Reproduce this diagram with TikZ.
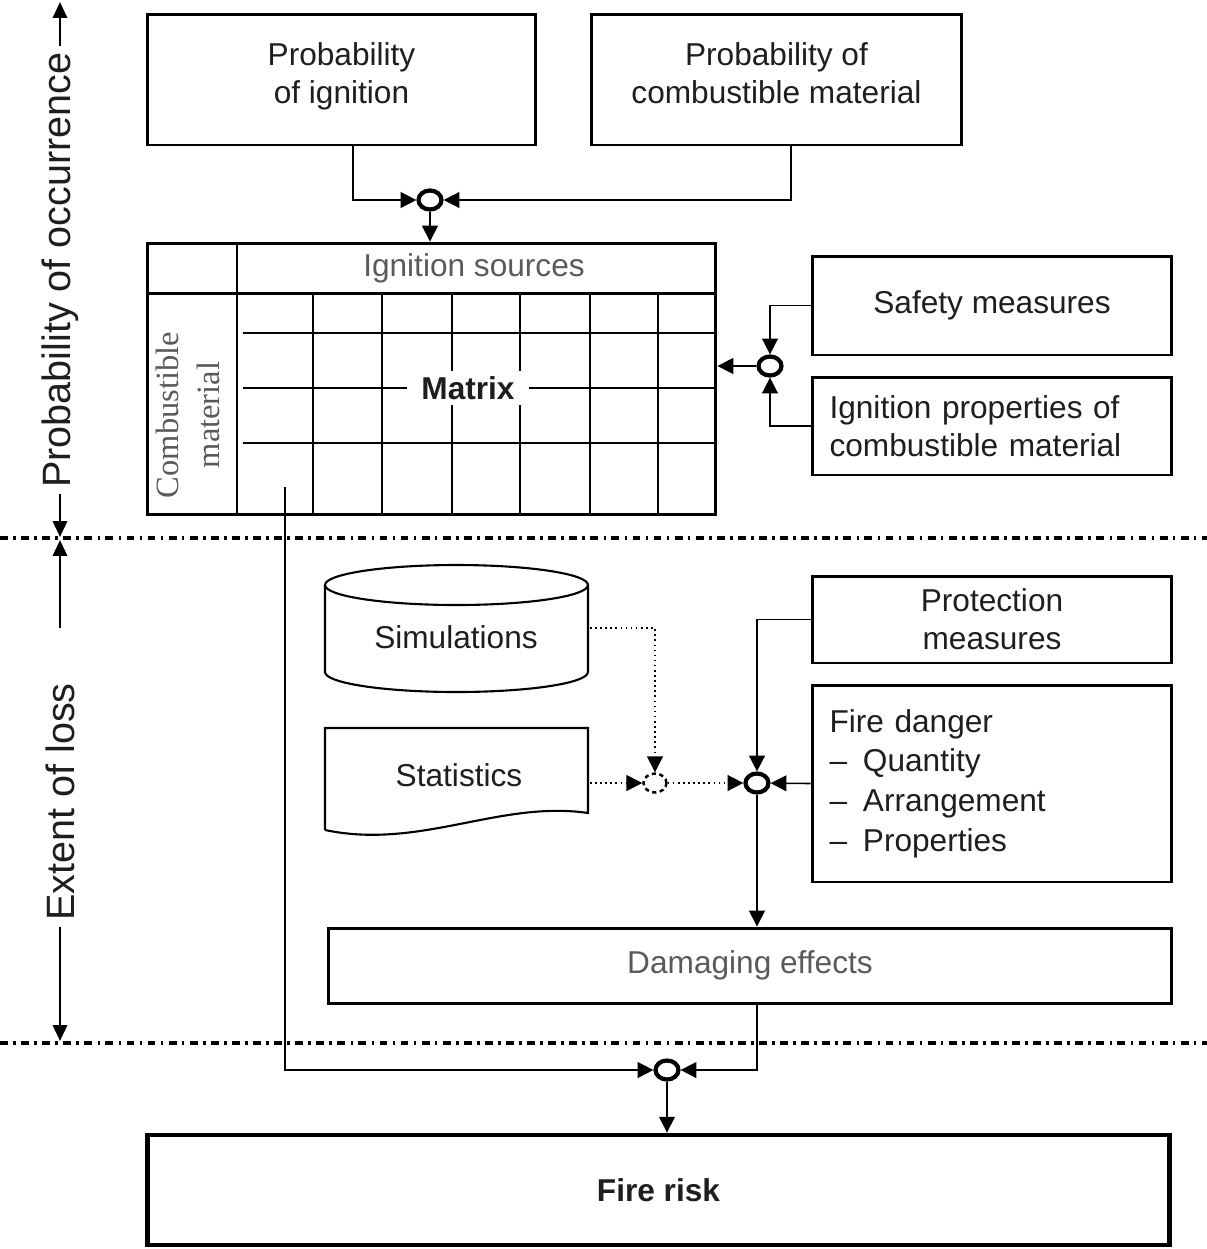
\documentclass[tikz,border=0pt]{standalone}
\usepackage{fontspec}
\setmainfont{Liberation Sans}
\newfontfamily\matserif{Liberation Serif}
\usetikzlibrary{arrows.meta,positioning,shapes.geometric}
\definecolor{ink}{RGB}{30,30,30}
\definecolor{soft}{RGB}{90,90,90}
\tikzset{
  every picture/.style={font=\fontsize{18}{21.6}\selectfont,text=ink},
  box/.style={draw,line width=1.7pt,inner sep=0pt,align=center},
  joint/.style={draw,ellipse,line width=2.4pt,minimum width=0.46cm,minimum height=0.38cm,inner sep=0pt},
  flow/.style={line width=0.9pt,-{Triangle[length=9pt,width=9pt]}},
  hint/.style={flow,dotted},
  grid/.style={line width=0.9pt},
  sep/.style={line width=2pt,dash pattern=on 4.5pt off 3pt on 1.5pt off 3pt},
  axis/.style={line width=1.5pt,-{Triangle[length=9pt,width=8pt]}},
  side/.style={rotate=90,font=\fontsize{22.5}{27}\selectfont},
}
\begin{document}
\begin{tikzpicture}[x=0.02cm,y=-0.02cm]
  \useasboundingbox (0,0) rectangle (1207,1249);
  % probability part
  \node[box,minimum width=7.78cm,minimum height=2.62cm] (pign) at (341.5,79.5) {Probability\\of ignition\\[-14pt]};
  \node[box,minimum width=7.42cm,minimum height=2.62cm] (pcomb) at (776.5,79.5) {Probability of\\combustible material\\[-14pt]};
  \node[joint] (j1) at (430,200) {};
  \coordinate (pigno) at (353,145);
  \coordinate (pcombo) at (791,145);
  \draw[flow] (pigno) |- (j1);
  \draw[flow] (pcombo) |- (j1);

  % matrix
  \node[draw,line width=1.7pt,minimum width=11.38cm,minimum height=5.44cm,inner sep=0pt] (mat) at (431.5,379) {};
  \foreach \x in {313,382,452,520,590,658}
    \draw[grid] (\x,293) -- (\x,515);
  \foreach \y in {333,388,443}
    \draw[grid] (243,\y) -- (716,\y);
  \draw[line width=1.7pt] (147,293) -- (716,293);
  \draw[line width=1.7pt] (237,243) -- (237,515);
  \node[text=soft] (isrc) at (474,268) {Ignition sources};
  \node[fill=white,font=\fontsize{18}{21.6}\selectfont\bfseries,inner xsep=8pt] (mtx) at (468,388) {Matrix};
  \node[rotate=90,text=soft,font=\fontsize{18.5}{23}\selectfont\matserif,align=center] (cmat) at (188,415) {Combustible\\material};
  \draw[flow] (j1) -- (j1 |- mat.north);

  \node[box,minimum width=7.2cm,minimum height=1.98cm] (safe) at (992,305.5) {Safety measures};
  \node[box,text width=6.5cm,align=left,inner xsep=0.35cm,minimum height=1.96cm] (iprop) at (992,426) {Ignition properties of\\combustible material};
  \node[joint] (j2) at (770,366) {};
  \draw[flow] (safe.west) -| (j2);
  \draw[flow] (iprop.west) -| (j2);
  \draw[flow] (j2) -- (j2 -| mat.east);

  % borders between parts
  \draw[sep] (0,538) -- (1207,538);
  \draw[sep] (0,1043) -- (1207,1043);
  \node[side] (occ) at (60,270) {Probability of occurrence};
  \node[side] (loss) at (60,802) {Extent of loss};
  \coordinate (occtop) at (60,2);
  \coordinate (occbot) at (60,537);
  \coordinate (lossin) at (60,628);
  \coordinate (losstop) at (60,540);
  \coordinate (lossbot) at (60,1041);
  \draw[axis] (occ.east) -- (occtop);
  \draw[axis] (occ.west) -- (occbot);
  \draw[axis] (lossin) -- (losstop);
  \draw[axis] (loss.west) -- (lossbot);

  % extent part
  \draw[line width=1.2pt] (325,585) -- (325,672)
    arc[start angle=180,end angle=360,x radius=2.63cm,y radius=0.4cm] -- (588,585);
  \draw[line width=1.2pt] (456.5,585) ellipse[x radius=2.63cm,y radius=0.4cm];
  \node (sim) at (456,637) {Simulations};
  \draw[line width=1.2pt] (325,830) -- (325,728) -- (588,728) -- (588,813)
    .. controls (500,800) and (420,850) .. (325,830);
  \node (stat) at (459,775) {Statistics};
  \coordinate (simr) at (590,628);
  \coordinate (statr) at (590,783);
  \node[joint,dotted,line width=1.4pt] (jd) at (655,783) {};
  \node[joint] (j3) at (757,783) {};
  \draw[hint] (simr) -| (jd);
  \draw[hint] (statr) -- (jd);
  \draw[hint] (jd) -- (j3);

  \node[box,minimum width=7.2cm,minimum height=1.74cm] (prot) at (992,619.5) {Protection\\measures};
  \node[box,text width=6.5cm,align=left,inner xsep=0.35cm,minimum height=3.94cm] (fire) at (992,783.5)
    {Fire danger\\[1pt] –\enspace Quantity\\[1pt] –\enspace Arrangement\\[1pt] –\enspace Properties};
  \draw[flow] (prot.west) -| (j3);
  \draw[flow] (fire.west) -- (j3);

  \node[box,minimum width=16.88cm,minimum height=1.5cm,text=soft] (dmg) at (750,965.5) {Damaging effects};
  \draw[flow] (j3) -- (j3 |- dmg.north);

  % result
  \node[joint] (j4) at (667,1070) {};
  \coordinate (matout) at (285,487);
  \coordinate (dmgout) at (757,1003);
  \draw[flow] (matout) |- (j4);
  \draw[flow] (dmgout) |- (j4);
  \node[box,line width=2.8pt,minimum width=20.46cm,minimum height=2.2cm,font=\fontsize{18}{21.6}\selectfont\bfseries] (risk) at (658.5,1190) {Fire risk};
  \draw[flow] (j4) -- (j4 |- risk.north);
\end{tikzpicture}
\end{document}
